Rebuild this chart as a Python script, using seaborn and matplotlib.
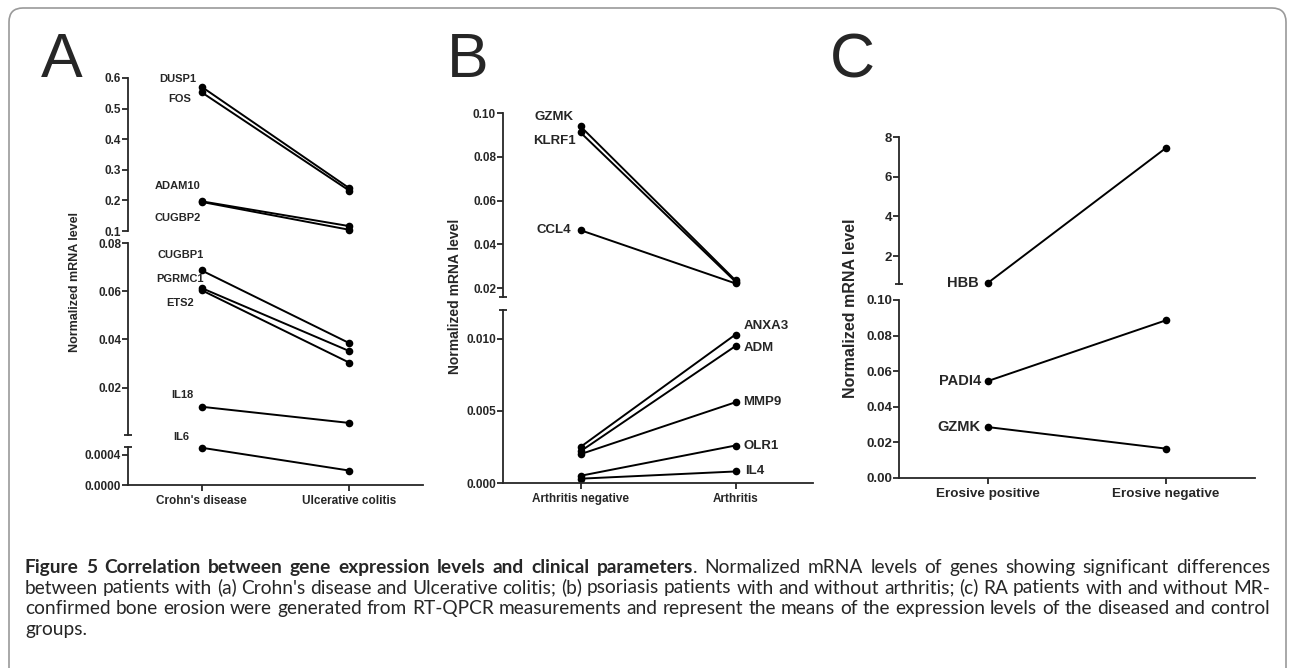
import numpy as np
import pandas as pd
import matplotlib
matplotlib.use("Agg")
import matplotlib.pyplot as plt
import seaborn as sns
from matplotlib.patches import FancyBboxPatch
from matplotlib.transforms import IdentityTransform
from matplotlib.ticker import FormatStrFormatter
from matplotlib import font_manager

# ------------------------------------------------------------------ data
a_groups = ["Crohn's disease", "Ulcerative colitis"]
a_genes = ["DUSP1", "FOS", "ADAM10", "CUGBP2", "CUGBP1", "PGRMC1", "ETS2", "IL18", "IL6"]
a_first = [0.571, 0.553, 0.197, 0.195, 0.0686, 0.0613, 0.0604, 0.0121, 0.00049]
a_second = [0.240, 0.232, 0.116, 0.104, 0.0385, 0.0352, 0.0304, 0.0054, 0.00019]

b_groups = ["Arthritis negative", "Arthritis"]
b_genes = ["GZMK", "KLRF1", "CCL4", "ANXA3", "ADM", "MMP9", "OLR1", "IL4"]
b_first = [0.0939, 0.0911, 0.0465, 0.0025, 0.0022, 0.0020, 0.0005, 0.0003]
b_second = [0.0236, 0.0230, 0.0222, 0.0103, 0.0095, 0.0056, 0.0026, 0.0008]

c_groups = ["Erosive positive", "Erosive negative"]
c_genes = ["HBB", "PADI4", "GZMK"]
c_first = [0.66, 0.0545, 0.0286]
c_second = [7.45, 0.0886, 0.0165]

a_ticks = [[0.1, 0.2, 0.3, 0.4, 0.5, 0.6], [0.02, 0.04, 0.06, 0.08], [0.0, 0.0004]]
b_ticks = [[0.02, 0.04, 0.06, 0.08, 0.10], [0.000, 0.005, 0.010]]
c_ticks = [[2, 4, 6, 8], [0.00, 0.02, 0.04, 0.06, 0.08, 0.10]]

y_label = "Normalized mRNA level"
caption_bold = "Figure 5 Correlation between gene expression levels and clinical parameters"
caption_lines = [
    ". Normalized mRNA levels of genes showing significant differences",
    "between patients with (a) Crohn's disease and Ulcerative colitis; (b) psoriasis patients with and without arthritis; (c) RA patients with and without MR-",
    "confirmed bone erosion were generated from RT-QPCR measurements and represent the means of the expression levels of the diseased and control",
    "groups.",
]

# ------------------------------------------------------------------ style
sns.set_style("ticks")
plt.rcParams["font.family"] = ["Liberation Sans", "DejaVu Sans"]
plt.rcParams["font.weight"] = "bold"
plt.rcParams["axes.linewidth"] = 1.3

W, H = 1292, 668
fig = plt.figure(figsize=(W / 100, H / 100), dpi=100)
fig.patch.set_facecolor("white")


def add_ax(l, t, r, b):
    return fig.add_axes([l / W, 1 - b / H, (r - l) / W, (b - t) / H])


def long_df(genes, first, second):
    rows = []
    for g, v1, v2 in zip(genes, first, second):
        rows.append({"gene": g, "x": 0, "value": v1})
        rows.append({"gene": g, "x": 1, "value": v2})
    return pd.DataFrame(rows)


def segment(ax, df, lo, hi, ticks, fmt, fs, bottom, groups, xfs,
            cap_low, cap_high, labels, gfs):
    inside = df.groupby("gene")["value"].transform(
        lambda v: bool(((v >= lo * 0.999) & (v <= hi * 1.001)).all()))
    sub = df[inside.astype(bool)]
    sns.lineplot(data=sub, x="x", y="value", units="gene", estimator=None,
                 color="black", lw=1.4, marker="o", markersize=5.5,
                 markeredgewidth=0, legend=False, ax=ax, clip_on=False, sort=False)
    ax.set_xlim(-0.5, 1.5)
    ax.set_ylim(lo, hi)
    ax.set_xlabel("")
    ax.set_ylabel("")
    for s in ["top", "right"]:
        ax.spines[s].set_visible(False)
    ax.patch.set_alpha(0)
    ax.set_yticks(ticks)
    ax.yaxis.set_major_formatter(FormatStrFormatter(fmt))
    ax.tick_params(axis="y", which="major", direction="out", length=4, width=1.3,
                   pad=1, labelsize=fs)
    caps = []
    if cap_low:
        caps.append(lo)
    if cap_high:
        caps.append(hi)
    ax.set_yticks(caps, minor=True)
    ax.tick_params(axis="y", which="minor", direction="inout", length=6, width=1.3)
    if bottom:
        ax.set_xticks([0, 1])
        ax.set_xticklabels(groups)
        ax.tick_params(axis="x", direction="out", length=4, width=1.3, pad=3,
                       labelsize=xfs)
    else:
        ax.spines["bottom"].set_visible(False)
        ax.set_xticks([])
    for g in sub["gene"].unique():
        if g not in labels:
            continue
        side, dx, dy = labels[g]
        row = sub[(sub["gene"] == g) & (sub["x"] == (0 if side == "L" else 1))].iloc[0]
        ax.annotate(g, (row["x"], row["value"]), xytext=(dx, -dy),
                    textcoords="offset pixels", ha="right" if side == "L" else "left",
                    va="center", fontsize=gfs, fontweight="bold", annotation_clip=False)


# ---------------- panel A
dfa = long_df(a_genes, a_first, a_second)
a_labels = {"DUSP1": ("L", -5, -8), "FOS": ("L", -11, 7), "ADAM10": ("L", -1, -15),
            "CUGBP2": ("L", -1, 16), "CUGBP1": ("L", 2, -15), "PGRMC1": ("L", 2, -9),
            "ETS2": ("L", -8, 13), "IL18": ("L", -8, -12), "IL6": ("L", -12, -11)}
ax = add_ax(128, 78, 423, 231)
segment(ax, dfa, 0.1, 0.6, a_ticks[0], "%.1f", 8.5, False, a_groups, 8.5, True, False, a_labels, 8)
ax = add_ax(128, 243, 423, 435)
segment(ax, dfa, 0.0004, 0.08, a_ticks[1], "%.2f", 8.5, False, a_groups, 8.5, True, True, a_labels, 8)
ax = add_ax(128, 447, 423, 485)
segment(ax, dfa, 0.0, 0.0005, a_ticks[2], "%.4f", 8.5, True, a_groups, 8.5, False, True, a_labels, 8)
fig.text(75 / W, 1 - 282 / H, y_label, rotation=90, ha="center", va="center",
         fontsize=9, fontweight="bold")

# ---------------- panel B
dfb = long_df(b_genes, b_first, b_second)
b_labels = {"GZMK": ("L", -7, -9), "KLRF1": ("L", -5, 9), "CCL4": ("L", -9, 0),
            "ANXA3": ("R", 8, -9), "ADM": ("R", 8, 2), "MMP9": ("R", 8, 0),
            "OLR1": ("R", 8, 0), "IL4": ("R", 10, 0)}
ax = add_ax(503, 113, 813, 297)
segment(ax, dfb, 0.016, 0.10, b_ticks[0], "%.2f", 8.5, False, b_groups, 8.5, True, False, b_labels, 9.5)
ax = add_ax(503, 310, 813, 483)
segment(ax, dfb, 0.0, 0.012, b_ticks[1], "%.3f", 8.5, True, b_groups, 8.5, False, True, b_labels, 9.5)
fig.text(455 / W, 1 - 296 / H, y_label, rotation=90, ha="center", va="center",
         fontsize=10, fontweight="bold")

# ---------------- panel C
dfc = long_df(c_genes, c_first, c_second)
c_labels = {"HBB": ("L", -9, 0), "PADI4": ("L", -7, 0), "GZMK": ("L", -7, 0)}
ax = add_ax(899, 137, 1255, 284)
segment(ax, dfc, 0.6, 8, c_ticks[0], "%d", 9.5, False, c_groups, 9.7, True, False, c_labels, 10.5)
ax = add_ax(899, 300, 1255, 478)
segment(ax, dfc, 0.0, 0.10, c_ticks[1], "%.2f", 9.5, True, c_groups, 9.7, False, True, c_labels, 10.5)
fig.text(851 / W, 1 - 308 / H, y_label, rotation=90, ha="center", va="center",
         fontsize=11.5, fontweight="bold")

# ---------------- panel letters
for letter, x in [("A", 41), ("B", 447), ("C", 830)]:
    fig.text(x / W, 1 - 77 / H, letter, fontsize=45, fontweight="normal",
             ha="left", va="baseline")

# ---------------- border
border = FancyBboxPatch((9, -40), 1277, 700, boxstyle="round,pad=0,rounding_size=14",
                        transform=IdentityTransform(), facecolor="none",
                        edgecolor="#9a9a9a", lw=1.2)
fig.add_artist(border)

# ---------------- caption (justified)
installed = {f.name for f in font_manager.fontManager.ttflist}
CAP_FONT = ["Liberation Sans Narrow", "Lato"] if "Liberation Sans Narrow" in installed else ["Lato", "DejaVu Sans"]
renderer = fig.canvas.get_renderer()
X0, X1 = 25, 1270
probe = fig.text(0, 0, caption_lines[1], fontsize=12, family=CAP_FONT, fontweight="normal")
fs_cap = 12 * (X1 - X0) / probe.get_window_extent(renderer).width
probe.remove()


def tokens_for(line_idx):
    toks = []
    if line_idx == 0:
        for w in caption_bold.split(" "):
            toks.append((w, "bold", False))
        words = caption_lines[0].split(" ")
        toks.append((words[0], "normal", True))
        for w in words[1:]:
            toks.append((w, "normal", False))
    else:
        for w in caption_lines[line_idx].split(" "):
            toks.append((w, "normal", False))
    return toks


baselines = [573, 593.5, 614, 634.5]
space_probe = fig.text(0, 0, "a a", fontsize=fs_cap, family=CAP_FONT, fontweight="normal")
a_probe = fig.text(0, 0, "aa", fontsize=fs_cap, family=CAP_FONT, fontweight="normal")
space_w = space_probe.get_window_extent(renderer).width - a_probe.get_window_extent(renderer).width
space_probe.remove()
a_probe.remove()

for i, yb in enumerate(baselines):
    toks = tokens_for(i)
    texts = [fig.text(0, 1 - yb / H, s, fontsize=fs_cap,
                      family=CAP_FONT, fontweight=wt, ha="left", va="baseline")
             for s, wt, _ in toks]
    widths = [t.get_window_extent(renderer).width for t in texts]
    n_gaps = sum(1 for _, _, att in toks[1:] if not att)
    justify = i < 3
    gap = (X1 - X0 - sum(widths)) / n_gaps if (justify and n_gaps) else space_w
    x = X0
    for k, (t, wd) in enumerate(zip(texts, widths)):
        if k > 0 and not toks[k][2]:
            x += gap
        t.set_x(x / W)
        x += wd

fig.savefig("out.png", dpi=100, facecolor="white")
